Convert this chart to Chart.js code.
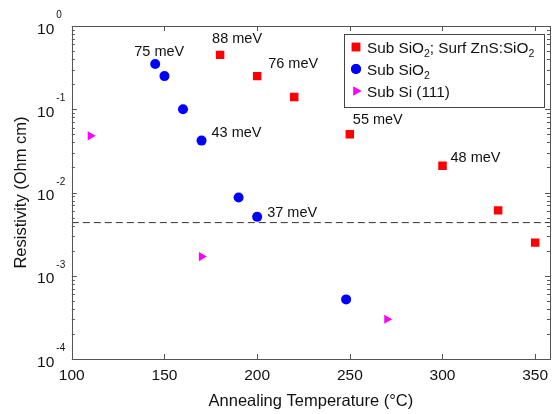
<!DOCTYPE html>
<html>
<head>
<meta charset="utf-8">
<script src="https://cdn.jsdelivr.net/npm/chart.js@4.4.0/dist/chart.umd.min.js"></script>
<style>
    html, body { margin: 0; padding: 0; background: #fff; }
    #wrap { width: 552px; height: 414px; }
</style>
</head>
<body>
<div id="wrap"><canvas id="resistivity-graph"></canvas></div>
<script>
// annealing temperature (°C) vs resistivity (Ohm cm)
const znsTemps = [180, 200, 220, 250, 300, 330, 350];
const znsRes = [0.45, 0.25, 0.14, 0.050, 0.021, 0.0061, 0.0025];
const sio2Temps = [145, 150, 160, 170, 190, 200, 248];
const sio2Res = [0.35, 0.25, 0.10, 0.042, 0.0087, 0.0051, 0.00052];
const siTemps = [110, 170, 270];
const siRes = [0.048, 0.0017, 0.0003];

// "_" marks a subscript character
const seriesLabels = ["Sub SiO_2; Surf ZnS:SiO_2", "Sub SiO_2", "Sub Si (111)"];

// activation energies, attached to a point of a series
const energyLabels = ["75 meV", "88 meV", "76 meV", "43 meV", "37 meV", "55 meV", "48 meV"];
const energySeries = [1, 0, 0, 1, 1, 0, 0];
const energyPoint = [0, 0, 1, 3, 5, 3, 4];

const thresholdRes = 0.00435;

const xMin = 100, xMax = 358;
const xTicks = [100, 150, 200, 250, 300, 350];
const yDecades = [-4, -3, -2, -1, 0];

// label placement (pixel offset from the point)
const energyOffsets = [[4, -12, "center"], [17, -16, "center"], [11, -12, "left"], [10, -8, "left"],
    [10, -4, "left"], [3, -14, "left"], [8, -8, "left"]];

const FONT = "'Liberation Sans', Arial, Helvetica, sans-serif";
const AXIS = "#555";
const LEGEND_SIZE = 15.3;

function toPoints(xs, ys) {
    return xs.map((x, i) => ({ x: x, y: ys[i] }));
}

function drawMarker(ctx, ds, x, y) {
    if (Chart.helpers && Chart.helpers.drawPoint) {
        Chart.helpers.drawPoint(ctx, {
            pointStyle: ds.pointStyle,
            radius: ds.pointRadius,
            rotation: ds.rotation || 0,
            borderWidth: 0
        }, x, y);
        ctx.fill();
    }
}

const boxTicks = {
    id: "boxTicks",
    afterDraw(chart) {
        const ctx = chart.ctx;
        const a = chart.chartArea;
        const xs = chart.scales.x, ys = chart.scales.y;
        ctx.save();
        ctx.strokeStyle = AXIS;
        ctx.lineWidth = 1;
        ctx.beginPath();
        xTicks.forEach(v => {
            const px = Math.round(xs.getPixelForValue(v)) + 0.5;
            ctx.moveTo(px, a.bottom); ctx.lineTo(px, a.bottom - 5);
            ctx.moveTo(px, a.top); ctx.lineTo(px, a.top + 5);
        });
        yDecades.forEach(d => {
            const py = Math.round(ys.getPixelForValue(Math.pow(10, d))) + 0.5;
            ctx.moveTo(a.left, py); ctx.lineTo(a.left + 5, py);
            ctx.moveTo(a.right, py); ctx.lineTo(a.right - 5, py);
            if (d < 0) {
                for (let k = 2; k <= 9; k++) {
                    const pm = Math.round(ys.getPixelForValue(k * Math.pow(10, d))) + 0.5;
                    ctx.moveTo(a.left, pm); ctx.lineTo(a.left + 3, pm);
                    ctx.moveTo(a.right, pm); ctx.lineTo(a.right - 3, pm);
                }
            }
        });
        ctx.stroke();
        ctx.strokeRect(Math.round(a.left) + 0.5, Math.round(a.top) + 0.5,
            Math.round(a.right - a.left), Math.round(a.bottom - a.top));

        // y tick labels as 10^n
        ctx.fillStyle = "#111";
        yDecades.forEach(d => {
            const py = ys.getPixelForValue(Math.pow(10, d));
            ctx.font = "15.5px " + FONT;
            ctx.textAlign = "right";
            ctx.textBaseline = "alphabetic";
            ctx.fillText("10", a.left - 17.5, py + 7.5);
            ctx.font = "10px " + FONT;
            ctx.textAlign = "left";
            ctx.fillText(String(d), a.left - 15.5, py - 8);
        });
        ctx.restore();
    }
};

const energyText = {
    id: "energyText",
    afterDatasetsDraw(chart) {
        const ctx = chart.ctx;
        ctx.save();
        ctx.font = "14.5px " + FONT;
        ctx.fillStyle = "#111";
        ctx.textBaseline = "middle";
        energyLabels.forEach((txt, i) => {
            const el = chart.getDatasetMeta(energySeries[i]).data[energyPoint[i]];
            const off = energyOffsets[i];
            ctx.textAlign = off[2];
            ctx.fillText(txt, el.x + off[0], el.y + off[1]);
        });
        ctx.restore();
    }
};

function richWidth(ctx, text) {
    let w = 0;
    text.split("_").forEach((p, i) => {
        if (i > 0) {
            ctx.font = "10.5px " + FONT;
            w += ctx.measureText(p[0]).width;
            p = p.slice(1);
        }
        ctx.font = LEGEND_SIZE + "px " + FONT;
        w += ctx.measureText(p).width;
    });
    return w;
}

function drawRich(ctx, text, x, y) {
    text.split("_").forEach((p, i) => {
        if (i > 0) {
            ctx.font = "10.5px " + FONT;
            ctx.fillText(p[0], x, y + 4);
            x += ctx.measureText(p[0]).width;
            p = p.slice(1);
        }
        ctx.font = LEGEND_SIZE + "px " + FONT;
        ctx.fillText(p, x, y);
        x += ctx.measureText(p).width;
    });
}

const boxLegend = {
    id: "boxLegend",
    afterDraw(chart) {
        const ctx = chart.ctx;
        const a = chart.chartArea;
        ctx.save();
        let maxW = 0;
        seriesLabels.forEach(l => { maxW = Math.max(maxW, richWidth(ctx, l)); });
        const right = Math.round(a.right) - 6;
        const left = Math.round(right - (23 + maxW + 10));
        const top = Math.round(a.top) + 8;
        ctx.fillStyle = "#fff";
        ctx.fillRect(left, top, right - left, 73);
        ctx.strokeStyle = "#444";
        ctx.lineWidth = 1;
        ctx.strokeRect(left + 0.5, top + 0.5, right - left, 73);
        seriesLabels.forEach((l, i) => {
            const ds = chart.data.datasets[i];
            const rowY = top + 13 + i * 22;
            ctx.fillStyle = ds.backgroundColor;
            drawMarker(ctx, ds, left + 12, rowY);
            ctx.fillStyle = "#111";
            ctx.textAlign = "left";
            ctx.textBaseline = "alphabetic";
            drawRich(ctx, l, left + 23, rowY + 5.5);
        });
        ctx.restore();
    }
};

new Chart("resistivity-graph", {
    type: "scatter",
    data: {
        datasets: [{
            label: seriesLabels[0],
            data: toPoints(znsTemps, znsRes),
            pointStyle: "rect",
            pointRadius: 6,
            backgroundColor: "#ff0000",
            borderWidth: 0,
            order: 0
        }, {
            label: seriesLabels[1],
            data: toPoints(sio2Temps, sio2Res),
            pointStyle: "circle",
            pointRadius: 5,
            backgroundColor: "#0000ff",
            borderWidth: 0,
            order: 0
        }, {
            label: seriesLabels[2],
            data: toPoints(siTemps, siRes),
            pointStyle: "triangle",
            rotation: 90,
            pointRadius: 5.3,
            backgroundColor: "#ff00ff",
            borderWidth: 0,
            order: 0
        }, {
            label: "threshold",
            data: [{ x: xMin, y: thresholdRes }, { x: xMax, y: thresholdRes }],
            showLine: true,
            borderColor: "#333",
            borderWidth: 1,
            borderDash: [7, 4],
            pointRadius: 0,
            order: 1
        }]
    },
    options: {
        responsive: true,
        maintainAspectRatio: false,
        animation: false,
        events: [],
        layout: {
            autoPadding: false,
            padding: { top: 26, right: 2, left: 11.1, bottom: 2.6 }
        },
        plugins: {
            legend: { display: false },
            tooltip: { enabled: false }
        },
        scales: {
            x: {
                type: "linear",
                min: xMin,
                max: xMax,
                grid: { display: false, drawTicks: false, tickLength: 0 },
                border: { display: false },
                afterBuildTicks: scale => { scale.ticks = xTicks.map(v => ({ value: v })); },
                afterFit: scale => { scale.paddingLeft = 0; scale.paddingRight = 0; },
                ticks: {
                    padding: 7,
                    color: "#111",
                    maxRotation: 0,
                    font: { family: FONT, size: 15.5 }
                },
                title: {
                    display: true,
                    text: "Annealing Temperature (°C)",
                    color: "#111",
                    padding: { top: 0, bottom: 0 },
                    font: { family: FONT, size: 16.5 }
                }
            },
            y: {
                type: "logarithmic",
                min: 1e-4,
                max: 1,
                grid: { display: false, drawTicks: false, tickLength: 0 },
                border: { display: false },
                ticks: { display: false },
                title: {
                    display: true,
                    text: "Resistivity (Ohm cm)",
                    color: "#111",
                    padding: { top: 0, bottom: 40.9 },
                    font: { family: FONT, size: 16.5 }
                }
            }
        }
    },
    plugins: [boxTicks, energyText, boxLegend]
});
</script>
</body>
</html>
